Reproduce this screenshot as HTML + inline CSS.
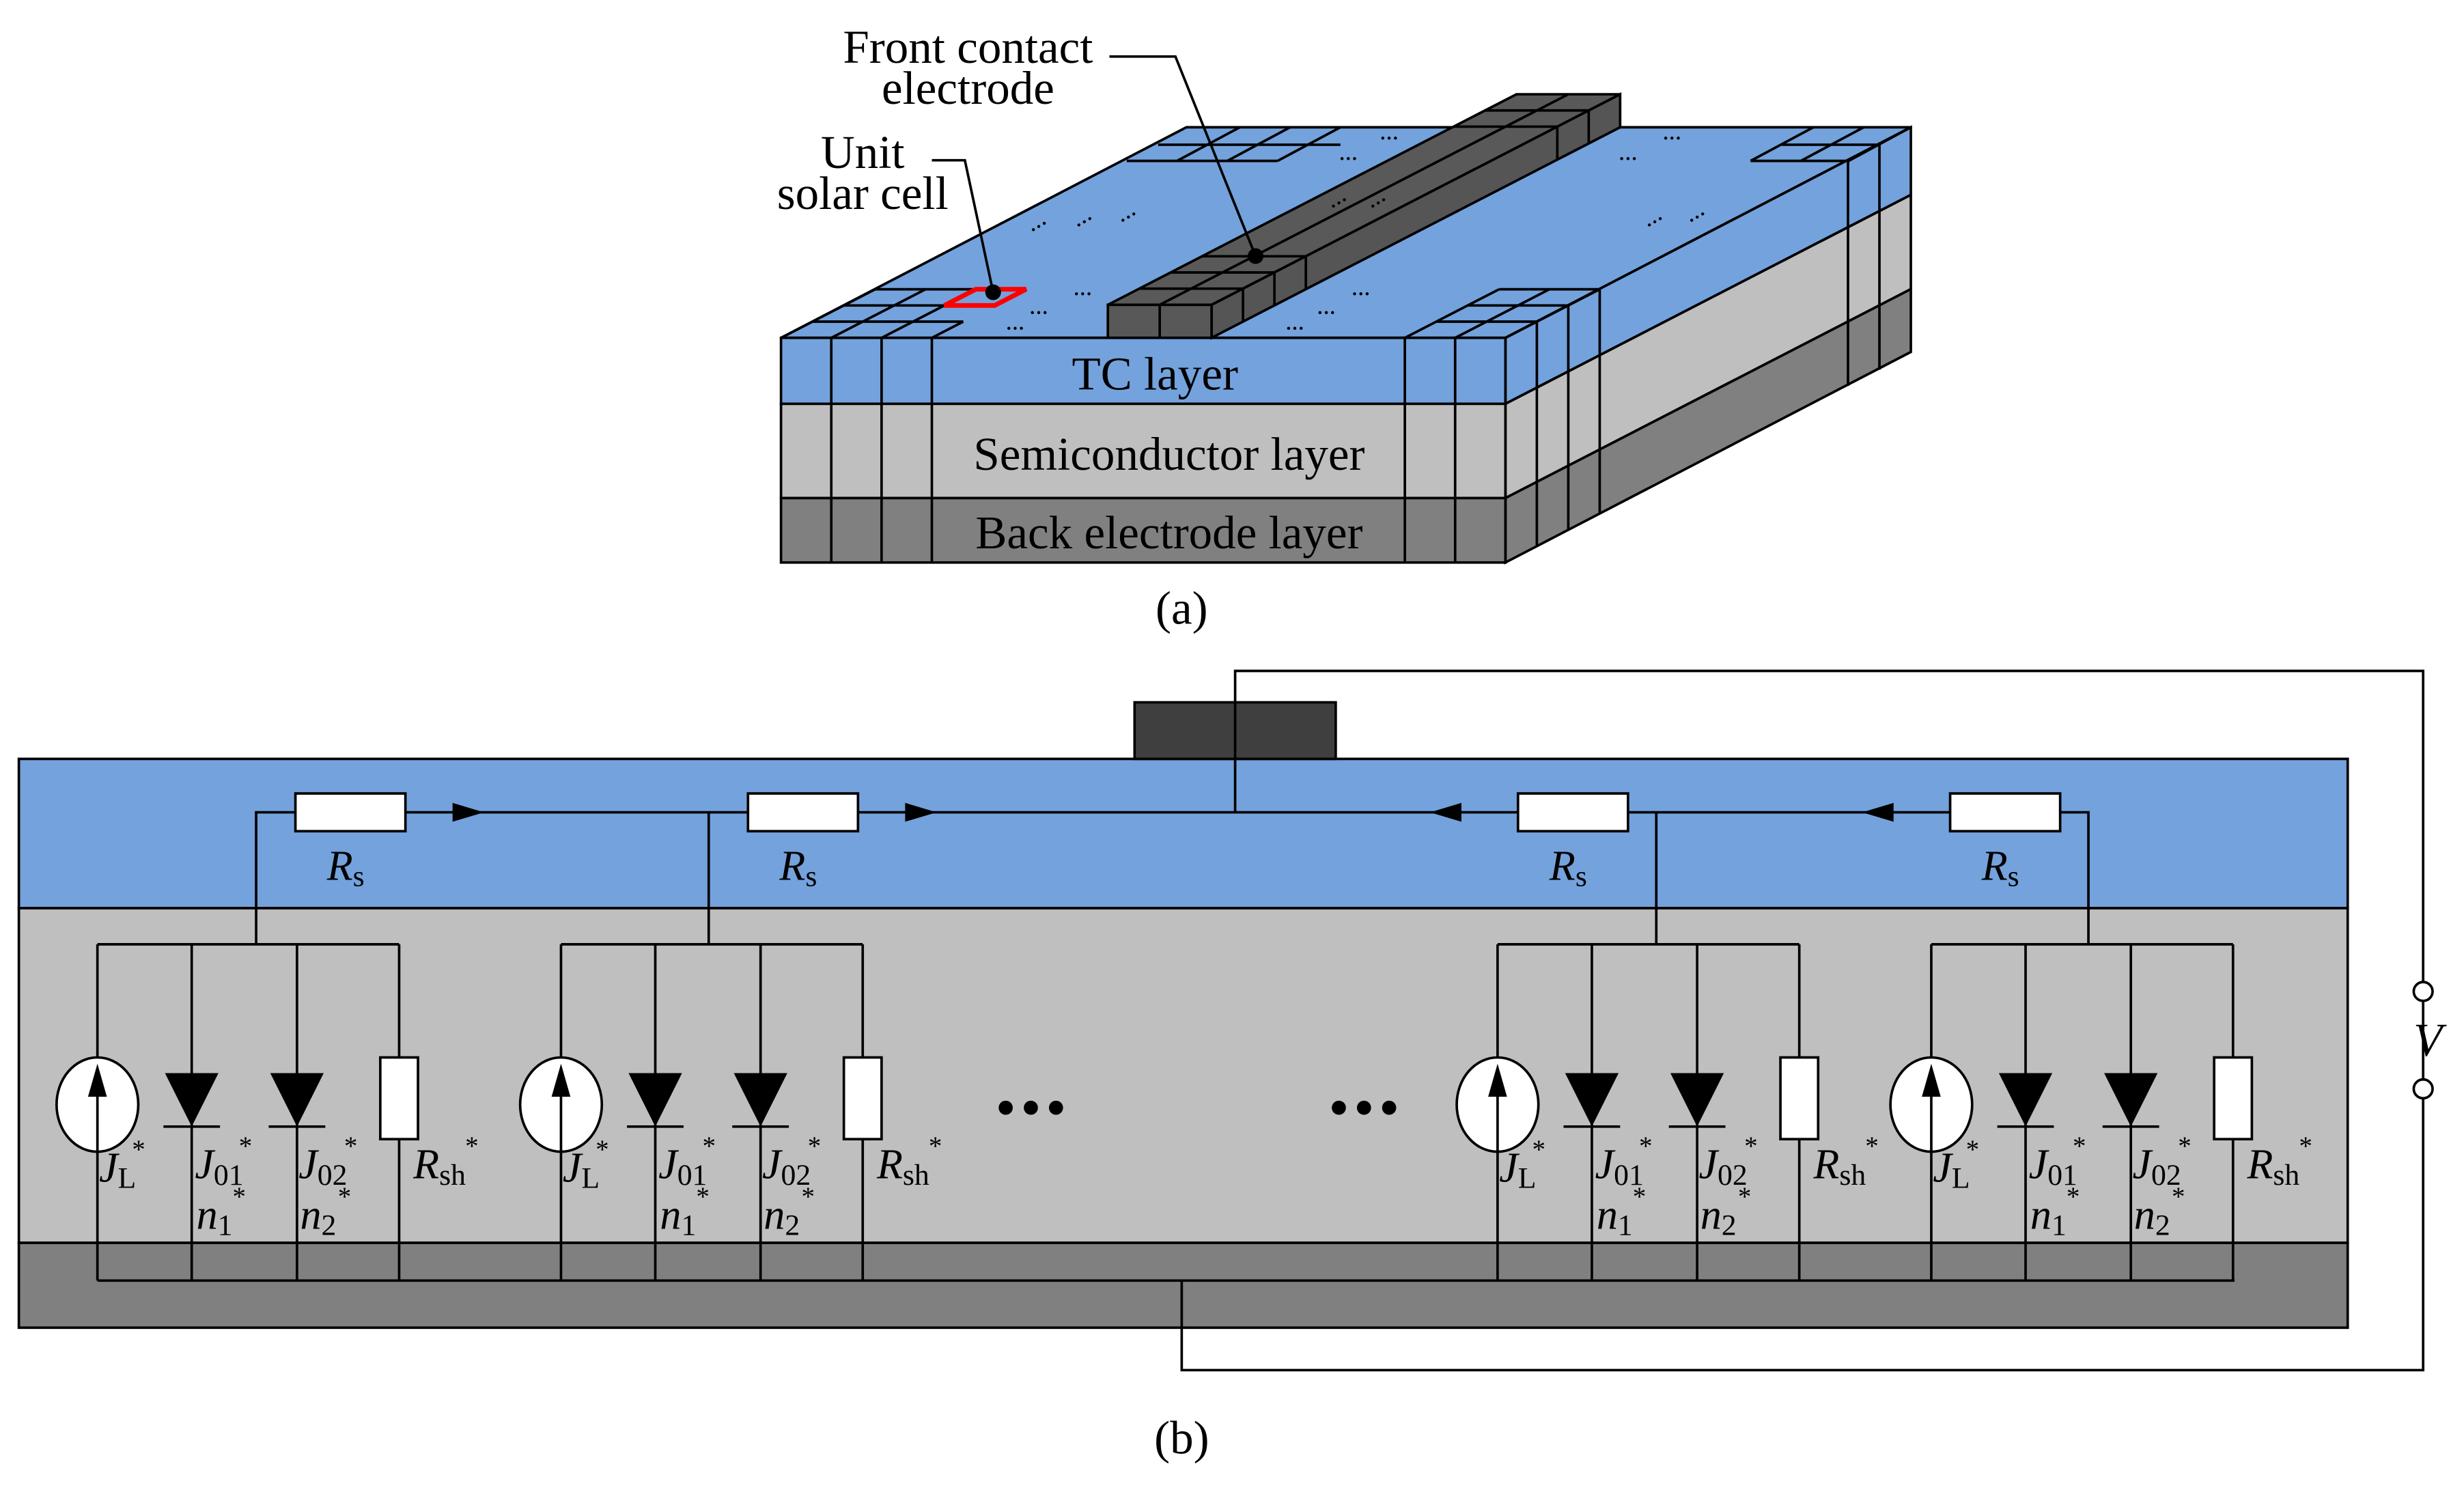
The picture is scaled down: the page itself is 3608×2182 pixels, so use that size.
<!DOCTYPE html>
<html><head><meta charset="utf-8"><style>html,body{margin:0;padding:0;background:#fff}svg{display:block}</style></head>
<body>
<svg width="3608" height="2182" viewBox="0 0 1568 948.3" preserveAspectRatio="none" xmlns="http://www.w3.org/2000/svg" font-family="'Liberation Serif', serif" stroke-linejoin="miter">
<g stroke="#000" stroke-width="1.6">
<polygon points="497,215 958,215 1216,81 755,81" fill="#74a2dc"/>
<polygon points="958,215 1216,81 1216,124 958,257" fill="#74a2dc"/>
<polygon points="958,257 1216,124 1216,184 958,317" fill="#bfbfbf"/>
<polygon points="958,317 1216,184 1216,224 958,358" fill="#808080"/>
<rect x="497" y="215" width="461" height="42" fill="#74a2dc"/>
<rect x="497" y="257" width="461" height="60" fill="#bfbfbf"/>
<rect x="497" y="317" width="461" height="41" fill="#808080"/>
<path d="M529,215V358M561,215V358M593,215V358M894,215V358M926,215V358" fill="none"/>
<path d="M978,204.7V347.7M998,194.4V337.4M1018,184.1V327.1M1176,102.6V245.6M1196,92.3V235.3" fill="none"/>
<path d="M517,204.7H613M537,194.4H633M557,184.1H633M529,215L589,184.1M561,215L601,194.4M593,215L613,204.7M497,215L557,184.1" fill="none"/>
<path d="M914,204.7H978M934,194.4H998M954,184.1H1018M894,215L954,184.1M926,215L986,184.1M958,215L1018,184.1" fill="none"/>
<path d="M717,102.4H813M737,92.1H853M789,81L749,102.4M821,81L781,102.4M853,81L813,102.4" fill="none"/>
<path d="M1114,102.4H1176M1134,92.1H1196M1154,81L1114,102.4M1186,81L1146,102.4M1216,81L1176,102.6" fill="none"/>
<polygon points="601,194.4 633,194.4 653,184.1 621,184.1" fill="none" stroke="#ff0000" stroke-width="3"/>
<polygon points="705,194 771,194 1031,60 965,60" fill="#595959"/>
<polygon points="771,194 1031,60 1031,81 771,215" fill="#555"/>
<rect x="705" y="194" width="66" height="21" fill="#585858"/>
<path d="M738,194V215M738,194L998,60M725,183.7H791M745,173.4H811M765,163.1H831M945,70.3H1011M925,80.6H991M791,183.7V204.7M811,173.4V194.4M831,163.1V184.1M991,80.6V101.6M1011,70.3V91.3" fill="none"/>
<path d="M706,36H748L799,163M593,102H614L632,186" fill="none"/>
</g>
<circle cx="799" cy="163" r="5" fill="#000"/>
<circle cx="632" cy="186" r="5" fill="#000"/>
<g font-size="12" fill="#000" font-weight="bold">
<text x="852" y="105">···</text><text x="878" y="92">···</text><text x="1030" y="105">···</text><text x="1058" y="92">···</text>
<text x="655" y="146" transform="rotate(-30 665 143)">···</text><text x="684" y="143" transform="rotate(-30 694 140)">···</text><text x="712" y="140" transform="rotate(-30 722 137)">···</text>
<text x="1047" y="143" transform="rotate(-30 1057 140)">···</text><text x="1074" y="140" transform="rotate(-30 1084 137)">···</text>
<text x="846" y="131" transform="rotate(-30 856 128)">···</text><text x="871" y="131" transform="rotate(-30 881 128)">···</text>
<text x="640" y="213">···</text><text x="655" y="203">···</text><text x="683" y="191">···</text>
<text x="818" y="213">···</text><text x="838" y="203">···</text><text x="860" y="191">···</text>
</g>
<g font-size="30" text-anchor="middle" fill="#000">
<text x="616" y="40">Front contact</text><text x="616" y="66">electrode</text>
<text x="549" y="107">Unit</text><text x="549" y="133">solar cell</text>
<text x="735" y="248">TC layer</text>
<text x="744" y="299">Semiconductor layer</text>
<text x="744" y="349">Back electrode layer</text>
<text x="752" y="397">(a)</text>
<text x="752" y="925">(b)</text>
</g>
<g stroke="#000" stroke-width="1.6">
<rect x="12" y="483" width="1482" height="95" fill="#74a2dc"/>
<rect x="12" y="578" width="1482" height="213" fill="#bfbfbf"/>
<rect x="12" y="791" width="1482" height="54" fill="#808080"/>
<rect x="722" y="447" width="128" height="36" fill="#3f3f3f"/>
<path d="M786,517V427H1542V625M1542,637V687M1542,699V872H752V815M62,815H1422" fill="none"/>
<circle cx="1542" cy="631" r="6" fill="#fff"/><circle cx="1542" cy="693" r="6" fill="#fff"/>
<path d="M163,601V517H1329V601M451,517V601M1054,517V601" fill="none"/>
<rect x="188" y="505" width="70" height="24" fill="#fff"/>
<rect x="476" y="505" width="70" height="24" fill="#fff"/>
<rect x="966" y="505" width="70" height="24" fill="#fff"/>
<rect x="1241" y="505" width="70" height="24" fill="#fff"/>
</g>
<g fill="#000">
<polygon points="288,511 308,517 288,523"/><polygon points="576,511 596,517 576,523"/>
<polygon points="930,511 910,517 930,523"/><polygon points="1205,511 1185,517 1205,523"/>
</g>
<defs>
<g id="u">
<g stroke="#000" stroke-width="1.6" fill="none">
<path d="M0,601H192M0,601V815M60,601V815M127,601V815M192,601V815"/>
<ellipse cx="0" cy="703" rx="26" ry="30" fill="#fff"/>
<path d="M0,733V695"/>
<path d="M42,717H78M109,717H145"/>
<rect x="180" y="673" width="24" height="52" fill="#fff"/>
</g>
<polygon points="-6,698 6,698 0,677" fill="#000"/>
<polygon points="43,683 77,683 60,717" fill="#000"/>
<polygon points="110,683 144,683 127,717" fill="#000"/>
<g font-size="27" font-style="italic" fill="#000">
<text x="1" y="752">J<tspan font-style="normal" font-size="19" dy="4">L</tspan></text>
<text x="62" y="750">J<tspan font-style="normal" font-size="19" dy="4">01</tspan></text>
<text x="128" y="750">J<tspan font-style="normal" font-size="19" dy="4">02</tspan></text>
<text x="201" y="750">R<tspan font-style="normal" font-size="19" dy="4">sh</tspan></text>
<text x="63" y="782">n<tspan font-style="normal" font-size="19" dy="4">1</tspan></text>
<text x="129" y="782">n<tspan font-style="normal" font-size="19" dy="4">2</tspan></text>
</g>
<g font-size="17" fill="#000">
<text x="22" y="737">*</text><text x="90" y="735">*</text><text x="157" y="735">*</text><text x="234" y="735">*</text>
<text x="86" y="767">*</text><text x="153" y="767">*</text>
</g>
</g>
</defs>
<use href="#u" transform="translate(62,0)"/>
<use href="#u" transform="translate(357,0)"/>
<use href="#u" transform="translate(953,0)"/>
<use href="#u" transform="translate(1229,0)"/>
<g font-size="27" font-style="italic" fill="#000" text-anchor="middle">
<text x="220" y="560">R<tspan font-style="normal" font-size="19" dy="4">s</tspan></text>
<text x="508" y="560">R<tspan font-style="normal" font-size="19" dy="4">s</tspan></text>
<text x="998" y="560">R<tspan font-style="normal" font-size="19" dy="4">s</tspan></text>
<text x="1273" y="560">R<tspan font-style="normal" font-size="19" dy="4">s</tspan></text>
<text x="1545" y="672" font-size="30">V</text>
</g>
<g fill="#000">
<circle cx="640" cy="705" r="4.5"/><circle cx="656" cy="705" r="4.5"/><circle cx="672" cy="705" r="4.5"/>
<circle cx="852" cy="705" r="4.5"/><circle cx="868" cy="705" r="4.5"/><circle cx="884" cy="705" r="4.5"/>
</g>
</svg>
</body></html>
